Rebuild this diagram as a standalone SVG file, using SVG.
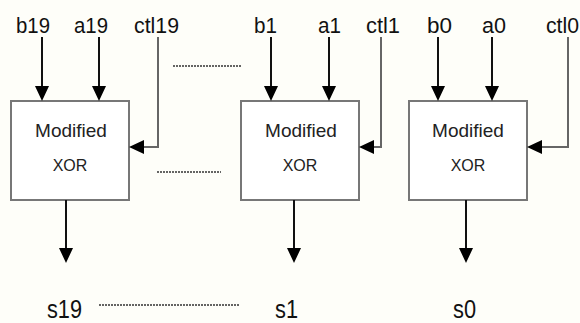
<svg xmlns="http://www.w3.org/2000/svg" width="580" height="323" viewBox="0 0 580 323">
<style>
  .lbl{font-family:"Liberation Sans",Arial,sans-serif;font-size:22px;fill:#111}
  .out{font-family:"Liberation Sans",Arial,sans-serif;font-size:25px;fill:#111}
  .t1{font-family:"Liberation Sans",Arial,sans-serif;font-size:19px;fill:#222;text-anchor:middle}
  .t2{font-family:"Liberation Sans",Arial,sans-serif;font-size:16px;fill:#222;text-anchor:middle}
  .box{fill:#ffffff;stroke:#777;stroke-width:2}
  .in{stroke:#111;stroke-width:2;fill:none}
  .ctl{stroke:#666;stroke-width:2;fill:none}
  .dot{stroke:#333;stroke-width:1.5;stroke-dasharray:2 1;fill:none}
</style>
<defs>
  <marker id="ah" viewBox="0 0 15 14" markerWidth="15" markerHeight="14" refX="11" refY="7" orient="auto" markerUnits="userSpaceOnUse">
    <path d="M0,0 L15,7 L0,14 z" fill="#000"/>
  </marker>
</defs>
<rect x="0" y="0" width="580" height="323" fill="#fefef9"/>

<g id="node-xor19">
  <rect class="box" x="11" y="101" width="118" height="99"/>
  <text class="t1" x="71" y="137">Modified</text>
  <text class="t2" x="70" y="171">XOR</text>
</g>
<g id="node-xor1">
  <rect class="box" x="241" y="101" width="118" height="99"/>
  <text class="t1" x="301" y="137">Modified</text>
  <text class="t2" x="300" y="171">XOR</text>
</g>
<g id="node-xor0">
  <rect class="box" x="409" y="101" width="118" height="99"/>
  <text class="t1" x="468" y="137">Modified</text>
  <text class="t2" x="468" y="171">XOR</text>
</g>

<g id="labels">
  <text class="lbl" x="16" y="33" textLength="34" lengthAdjust="spacingAndGlyphs">b19</text>
  <text class="lbl" x="74" y="33" textLength="34" lengthAdjust="spacingAndGlyphs">a19</text>
  <text class="lbl" x="134" y="33" textLength="45" lengthAdjust="spacingAndGlyphs">ctl19</text>
  <text class="lbl" x="254" y="33" textLength="23" lengthAdjust="spacingAndGlyphs">b1</text>
  <text class="lbl" x="318" y="33" textLength="23" lengthAdjust="spacingAndGlyphs">a1</text>
  <text class="lbl" x="366" y="33" textLength="34" lengthAdjust="spacingAndGlyphs">ctl1</text>
  <text class="lbl" x="427" y="33" textLength="25" lengthAdjust="spacingAndGlyphs">b0</text>
  <text class="lbl" x="482" y="33" textLength="24" lengthAdjust="spacingAndGlyphs">a0</text>
  <text class="lbl" x="546" y="33" textLength="33" lengthAdjust="spacingAndGlyphs">ctl0</text>
  <text class="out" x="47" y="318" textLength="35" lengthAdjust="spacingAndGlyphs">s19</text>
  <text class="out" x="275" y="318" textLength="23" lengthAdjust="spacingAndGlyphs">s1</text>
  <text class="out" x="453" y="318" textLength="23" lengthAdjust="spacingAndGlyphs">s0</text>
</g>

<g id="connectors">
  <line class="in" x1="42" y1="37" x2="42" y2="97" marker-end="url(#ah)"/>
  <line class="in" x1="99" y1="37" x2="99" y2="97" marker-end="url(#ah)"/>
  <polyline class="ctl" points="158,37 158,147 133,147" marker-end="url(#ah)"/>
  <line class="in" x1="271" y1="37" x2="271" y2="97" marker-end="url(#ah)"/>
  <line class="in" x1="329" y1="37" x2="329" y2="97" marker-end="url(#ah)"/>
  <polyline class="ctl" points="381,37 381,147 363,147" marker-end="url(#ah)"/>
  <line class="in" x1="438" y1="37" x2="438" y2="97" marker-end="url(#ah)"/>
  <line class="in" x1="492" y1="37" x2="492" y2="97" marker-end="url(#ah)"/>
  <polyline class="ctl" points="568,37 568,147 531,147" marker-end="url(#ah)"/>
  <line class="in" x1="66" y1="200" x2="66" y2="259" marker-end="url(#ah)"/>
  <line class="in" x1="294" y1="200" x2="294" y2="259" marker-end="url(#ah)"/>
  <line class="in" x1="466" y1="200" x2="466" y2="259" marker-end="url(#ah)"/>
  <line class="dot" x1="173" y1="66" x2="242" y2="66"/>
  <line class="dot" x1="157" y1="172" x2="221" y2="172"/>
  <line class="dot" x1="99" y1="305" x2="239" y2="305"/>
</g>
</svg>
